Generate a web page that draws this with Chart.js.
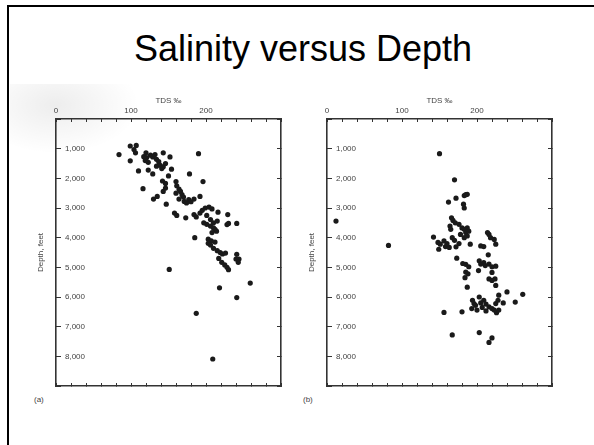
<!DOCTYPE html>
<html>
<head>
<meta charset="utf-8">
<script src="https://cdn.jsdelivr.net/npm/chart.js@4.4.0/dist/chart.umd.min.js"></script>
<style>
  html, body { margin: 0; padding: 0; background: #fff; }
  body { width: 594px; height: 445px; position: relative; overflow: hidden; font-family: "Liberation Sans", Arial, sans-serif; }
  #frame { position: absolute; left: 7px; top: 5px; width: 620px; height: 480px; border-top: 2px solid #000; border-left: 2px solid #000; }
  #title { position: absolute; left: 6px; width: 594px; top: 31px; text-align: center; font-size: 36px; line-height: 36px; color: #000; }
  #scan { position: absolute; left: 10px; top: 84px; width: 130px; height: 70px;
          background: radial-gradient(ellipse at 35% 30%, rgba(0,0,0,0.07), rgba(0,0,0,0) 70%); }
  .cv { position: absolute; top: 88px; }
  .tag { position: absolute; top: 395px; font-size: 8px; color: #444; }
</style>
</head>
<body>
<div id="frame"></div>
<div id="scan"></div>
<div id="title">Salinity versus Depth</div>
<canvas id="chartA" class="cv" width="260" height="304" style="left:30px"></canvas>
<canvas id="chartB" class="cv" width="260" height="304" style="left:301px"></canvas>
<span class="tag" style="left:34px">(a)</span>
<span class="tag" style="left:303px">(b)</span>
<script>
// axis settings
const tdsMin = 0, tdsMax = 300, tdsStep = 20;
const depthMin = 0, depthMax = 9000, depthStep = 1000;

// (a) TDS per mil and depth in feet
const tdsA = [84, 99, 107, 104, 106, 99,
  120, 117, 121, 119, 123, 126, 129, 132, 134, 137, 134, 139, 141, 143, 143, 152, 154, 146, 110, 123, 129, 116,
  190, 178, 196, 142, 146, 150, 146, 143, 130, 135, 147,
  160, 161, 164, 166, 160, 168, 170, 164, 171, 174, 177, 180, 184, 192,
  158, 161, 173, 184, 187, 192, 195, 199, 204, 208, 216, 229, 201, 206, 210, 215, 201,
  228, 230, 241,
  197, 206, 210, 212, 214, 208, 185,
  203, 207, 203, 212, 206,
  210, 215, 219, 222, 226, 217,
  221, 225, 228, 230,
  241, 244, 240, 243,
  151, 218, 259, 241, 187, 209];
const depthA = [1200, 910, 890, 1030, 1140, 1410,
  1140, 1270, 1300, 1400, 1460, 1220, 1280, 1200, 1360, 1440, 1590, 1560, 1670, 1610, 1140, 1280, 1690, 1500, 1750, 1720, 1850, 2350,
  1170, 1850, 2110, 2090, 2170, 1920, 2330, 2440, 2700, 2610, 2870,
  2110, 2250, 2360, 2440, 2500, 2550, 2630, 2700, 2780, 2830, 2720, 2790, 2700, 2610,
  3170, 3250, 3330, 3220, 3300, 3170, 3080, 3000, 2970, 3030, 3140, 3220, 3250, 3390, 3500, 3440, 3550,
  3560, 3520, 3520,
  3500, 3610, 3670, 3720, 3780, 3830, 4000,
  4050, 4110, 4190, 4150, 4250,
  4360, 4440, 4500, 4550, 4520, 4700,
  4830, 4920, 5000, 5080,
  4560, 4720, 4720, 4830,
  5070, 5690, 5530, 6020, 6550, 8090];

// (b) TDS per mil and depth in feet
const tdsB = [150, 170, 172, 162, 183, 185, 187, 182, 183, 12, 82,
  166, 168, 171, 164, 165,
  176, 180, 183, 185, 187, 189, 178, 183, 187,
  142, 148, 151, 156, 158, 163, 160, 167, 170, 172, 176, 149, 191, 205, 209,
  214, 216, 218, 223, 225,
  173, 181, 185, 189, 185, 188, 184, 187,
  203, 205, 209, 211, 202, 215, 216, 220, 225,
  216, 220, 224, 225, 220,
  194, 196, 193, 198, 205, 207, 212, 212, 216, 220, 223, 226, 229, 225, 228, 229, 200, 209, 203,
  235, 240, 251, 261, 156, 180, 167, 203, 220, 216];
const depthB = [1170, 2050, 2670, 2800, 2580, 2550, 2540, 2870, 3000, 3440, 4260,
  3330, 3420, 3500, 3610, 3720,
  3550, 3670, 3720, 3830, 3670, 3780, 3890, 4000, 3940,
  3980, 4160, 4220, 4110, 4300, 4330, 4200, 4000, 4090, 4310, 4200, 4390, 4220, 4280, 4300,
  3830, 3890, 4000, 4060, 4220,
  4690, 4870, 4900, 4980, 5160, 5220, 5350, 5670,
  4780, 4890, 4840, 4940, 5110, 4580, 4890, 4980, 4960,
  5390, 5440, 5390, 5610, 5170,
  6110, 6220, 6390, 6280, 6200, 6350, 6240, 6470, 6330, 6390, 6440, 6530, 6440, 6220, 6110, 5940, 6440, 6110, 6000,
  6200, 5830, 6170, 5910, 6520, 6500, 7280, 7200, 7380, 7530];

const inkColor = '#1a1a1a';
const axisColor = '#333';
const labelColor = '#444';

function pointsOf(xs, ys) {
  return xs.map((x, i) => ({ x: x, y: ys[i] }));
}

function makeChart(id, xs, ys) {
  const ctx = document.getElementById(id).getContext('2d');
  const border = { display: true, color: axisColor, width: 1.6 };
  new Chart(ctx, {
    type: 'scatter',
    data: {
      datasets: [{
        data: pointsOf(xs, ys),
        backgroundColor: inkColor,
        borderWidth: 0,
        pointRadius: 2.6
      }]
    },
    options: {
      responsive: false,
      animation: false,
      layout: { padding: { left: 0, top: 0, right: 9, bottom: 6 } },
      plugins: { legend: { display: false }, tooltip: { enabled: false } },
      scales: {
        x: {
          type: 'linear', position: 'top', min: tdsMin, max: tdsMax,
          afterFit: s => { s.height = 31; s.paddingLeft = 0; s.paddingRight = 0; },
          ticks: {
            stepSize: tdsStep, autoSkip: false, maxRotation: 0, padding: 6,
            color: labelColor, font: { size: 8 },
            callback: v => (v % 100 === 0 && v < tdsMax) ? v : ''
          },
          grid: { drawOnChartArea: false, tickLength: -3, color: axisColor },
          border: border,
          title: { display: true, text: 'TDS ‰', color: labelColor, font: { size: 8 }, padding: { top: 8, bottom: 0 } }
        },
        x2: {
          type: 'linear', position: 'bottom', min: tdsMin, max: tdsMax,
          afterFit: s => { s.height = 0; s.paddingLeft = 0; s.paddingRight = 0; },
          ticks: { display: false, stepSize: tdsStep, autoSkip: false },
          grid: { drawOnChartArea: false, tickLength: -3, color: axisColor },
          border: border
        },
        y: {
          type: 'linear', position: 'left', reverse: true, min: depthMin, max: depthMax,
          afterFit: s => { s.width = 26; s.paddingTop = 0; s.paddingBottom = 0; },
          ticks: {
            stepSize: depthStep, mirror: true, padding: 9,
            color: labelColor, font: { size: 8 },
            callback: v => (v > depthMin && v < depthMax) ? v.toLocaleString('en-US') : ''
          },
          grid: { drawOnChartArea: false, tickLength: -5, color: axisColor },
          border: border,
          title: { display: true, text: 'Depth, feet', color: labelColor, font: { size: 8 }, padding: { top: 6, bottom: 0 } }
        },
        y2: {
          type: 'linear', position: 'right', reverse: true, min: depthMin, max: depthMax,
          afterFit: s => { s.width = 0; s.paddingTop = 0; s.paddingBottom = 0; },
          ticks: { display: false, stepSize: depthStep },
          grid: { drawOnChartArea: false, tickLength: -4, color: axisColor },
          border: border
        }
      }
    }
  });
}

makeChart('chartA', tdsA, depthA);
makeChart('chartB', tdsB, depthB);
</script>
</body>
</html>
